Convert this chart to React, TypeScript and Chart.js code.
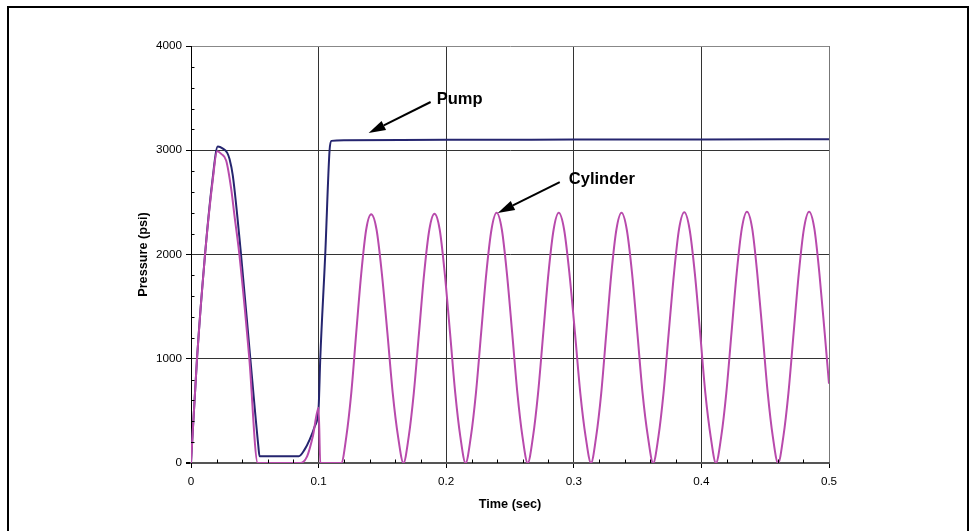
import { useEffect, useRef } from "react";
import { Chart, registerables } from "chart.js";

Chart.register(...registerables);

const FONT = "'Liberation Sans', Arial, Helvetica, sans-serif";

// Pump pressure trace (time in s, pressure in psi)
const pumpTime = [
  0, 0.0047, 0.011, 0.0165, 0.021, 0.025, 0.0284, 0.0302, 0.0328, 0.0392,
  0.0465, 0.0528, 0.0537, 0.0845, 0.089, 0.093, 0.097, 0.1, 0.1013, 0.1052,
  0.1086, 0.11, 0.12, 0.2, 0.3, 0.4, 0.5,
];
const pumpPressure = [
  0, 1000, 2000, 2680, 3035, 3015, 2975, 2915, 2755, 2000,
  1000, 160, 65, 65, 128, 224, 352, 530, 1000, 2000,
  3000, 3090, 3096, 3100, 3102, 3104, 3105,
];

// Cylinder pressure trace
const cylinderTime = [
  0, 0.0047, 0.011, 0.0171, 0.0204, 0.0237, 0.0276, 0.0315, 0.0341, 0.0379,
  0.0457, 0.0523, 0.0855, 0.091, 0.0955, 0.1, 0.1013, 0.1178,
  0.1217, 0.1256, 0.1295, 0.1334, 0.1373, 0.1412,
  0.1454, 0.1496, 0.1539, 0.1581, 0.1623, 0.1665,
  0.1706, 0.1746, 0.1787, 0.1827, 0.1868, 0.1908,
  0.1949, 0.1989, 0.203, 0.2071, 0.2111, 0.2152,
  0.2193, 0.2233, 0.2274, 0.2314, 0.2355, 0.2395,
  0.2436, 0.2476, 0.2517, 0.2558, 0.2598, 0.2639,
  0.268, 0.272, 0.2761, 0.2801, 0.2842, 0.2882,
  0.2924, 0.2966, 0.3009, 0.3051, 0.3093, 0.3135,
  0.3175, 0.3215, 0.3255, 0.3294, 0.3334, 0.3374,
  0.3415, 0.3457, 0.3498, 0.3539, 0.3581, 0.3622,
  0.3663, 0.3703, 0.3744, 0.3785, 0.3825, 0.3866,
  0.3907, 0.3949, 0.399, 0.4031, 0.4073, 0.4114,
  0.4155, 0.4195, 0.4236, 0.4276, 0.4317, 0.4357,
  0.4398, 0.4438, 0.4479, 0.452, 0.456, 0.4601,
  0.4642, 0.4682, 0.4723, 0.4763, 0.4804, 0.4844,
  0.4885, 0.4925, 0.4966, 0.5,
];
const cylinderPressure = [
  0, 1000, 2000, 2720, 2990, 2965, 2900, 2630, 2370, 2000,
  1000, 0, 0, 64, 256, 530, 0, 0,
  250, 670, 1250, 1815, 2240, 2385,
  2240, 1815, 1250, 670, 250, 0,
  250, 670, 1250, 1815, 2240, 2390,
  2240, 1815, 1250, 670, 250, 0,
  250, 670, 1250, 1815, 2240, 2400,
  2240, 1815, 1250, 670, 250, 0,
  250, 670, 1250, 1815, 2240, 2400,
  2240, 1815, 1250, 670, 250, 0,
  250, 670, 1250, 1815, 2240, 2400,
  2240, 1815, 1250, 670, 250, 0,
  250, 670, 1250, 1815, 2245, 2405,
  2245, 1815, 1250, 670, 250, 0,
  250, 670, 1250, 1815, 2250, 2410,
  2250, 1815, 1250, 670, 250, 0,
  250, 670, 1250, 1815, 2250, 2410,
  2250, 1815, 1250, 760,
];

const xMinorTicks = [
  0.02, 0.04, 0.06, 0.08, 0.12, 0.14, 0.16, 0.18, 0.22, 0.24,
  0.26, 0.28, 0.32, 0.34, 0.36, 0.38, 0.42, 0.44, 0.46, 0.48,
];
const yMinorTicks = [
  200, 400, 600, 800, 1200, 1400, 1600, 1800, 2200, 2400, 2600, 2800,
  3200, 3400, 3600, 3800,
];

const seriesNames = ["Pump", "Cylinder"];
const seriesColors = ["#25256F", "#B84AAC"];

// Callout labels with arrows, in data coordinates
const calloutLabels = ["Pump", "Cylinder"];
const calloutTextAt = [
  [0.1925, 3492],
  [0.2961, 2724],
];
const calloutArrowFrom = [
  [0.1878, 3463],
  [0.289, 2695],
];
const calloutArrowTo = [
  [0.1392, 3165],
  [0.2404, 2398],
];

const framePlugin = {
  id: "frame",
  afterDraw(chart: any) {
    const { ctx } = chart;
    ctx.save();
    ctx.strokeStyle = "#000";
    ctx.lineWidth = 2;
    ctx.strokeRect(8, 7, 960, 600);
    ctx.restore();
  },
};

const minorTickPlugin = {
  id: "minorTicks",
  afterDatasetsDraw(chart: any) {
    const { ctx, chartArea, scales } = chart;
    const xs = scales.x;
    const ys = scales.y;
    ctx.save();
    ctx.strokeStyle = "#000";
    ctx.lineWidth = 1;
    ctx.beginPath();
    for (const v of yMinorTicks) {
      const py = Math.round(ys.getPixelForValue(v)) + 0.5;
      ctx.moveTo(chartArea.left, py);
      ctx.lineTo(chartArea.left + 3.5, py);
    }
    for (const v of xMinorTicks) {
      const px = Math.round(xs.getPixelForValue(v)) + 0.5;
      ctx.moveTo(px, chartArea.bottom);
      ctx.lineTo(px, chartArea.bottom - 3.5);
    }
    ctx.stroke();
    ctx.restore();
  },
};

const calloutPlugin = {
  id: "callouts",
  afterDatasetsDraw(chart: any) {
    const { ctx, scales } = chart;
    const xs = scales.x;
    const ys = scales.y;
    ctx.save();
    calloutLabels.forEach((label, i) => {
      const x1 = xs.getPixelForValue(calloutArrowFrom[i][0]);
      const y1 = ys.getPixelForValue(calloutArrowFrom[i][1]);
      const x2 = xs.getPixelForValue(calloutArrowTo[i][0]);
      const y2 = ys.getPixelForValue(calloutArrowTo[i][1]);
      const ang = Math.atan2(y2 - y1, x2 - x1);
      const headLen = 17;
      const headHalf = 5;
      const bx = x2 - headLen * Math.cos(ang);
      const by = y2 - headLen * Math.sin(ang);
      ctx.strokeStyle = "#000";
      ctx.lineWidth = 2;
      ctx.beginPath();
      ctx.moveTo(x1, y1);
      ctx.lineTo(bx, by);
      ctx.stroke();
      ctx.fillStyle = "#000";
      ctx.beginPath();
      ctx.moveTo(x2, y2);
      ctx.lineTo(bx + headHalf * Math.sin(ang), by - headHalf * Math.cos(ang));
      ctx.lineTo(bx - headHalf * Math.sin(ang), by + headHalf * Math.cos(ang));
      ctx.closePath();
      ctx.fill();
      ctx.font = `bold 16.5px ${FONT}`;
      ctx.textBaseline = "middle";
      ctx.textAlign = "left";
      ctx.fillText(
        label,
        xs.getPixelForValue(calloutTextAt[i][0]),
        ys.getPixelForValue(calloutTextAt[i][1])
      );
    });
    ctx.restore();
  },
};

export default function App() {
  const canvasRef = useRef<HTMLCanvasElement | null>(null);

  useEffect(() => {
    if (!canvasRef.current) return;
    Chart.defaults.font.family = FONT;
    const chart = new Chart(canvasRef.current, {
      type: "line",
      data: {
        datasets: [
          {
            label: seriesNames[0],
            data: pumpTime.map((t, i) => ({ x: t, y: pumpPressure[i] })),
            borderColor: seriesColors[0],
            backgroundColor: seriesColors[0],
            borderWidth: 2,
            pointRadius: 0,
            cubicInterpolationMode: "monotone",
            order: 1,
          },
          {
            label: seriesNames[1],
            data: cylinderTime.map((t, i) => ({ x: t, y: cylinderPressure[i] })),
            borderColor: seriesColors[1],
            backgroundColor: seriesColors[1],
            borderWidth: 2,
            pointRadius: 0,
            cubicInterpolationMode: "monotone",
            order: 0,
          },
        ],
      },
      options: {
        responsive: false,
        animation: false,
        events: [],
        layout: { padding: { left: 0, right: 145, top: 46, bottom: 0 } },
        plugins: {
          legend: { display: false },
          tooltip: { enabled: false },
        },
        scales: {
          x: {
            type: "linear",
            min: 0,
            max: 0.5,
            ticks: {
              stepSize: 0.1,
              padding: 7,
              color: "#000",
              maxRotation: 0,
              font: { size: 11.7 },
              callback: (v: any) => String(Math.round(Number(v) * 10) / 10),
            },
            grid: {
              color: (c: any) =>
                c.tick && Math.abs(c.tick.value - 0.5) < 1e-9 ? "#777" : "#333",
              lineWidth: 1,
              tickLength: 5,
              tickColor: "#000",
            },
            border: { display: true, color: "#555", width: 2 },
            title: {
              display: true,
              text: "Time (sec)",
              color: "#000",
              font: { size: 12.7, weight: "bold" },
              padding: { top: 0, bottom: 19 },
            },
            afterFit: (s: any) => {
              s.height = 68;
            },
          },
          y: {
            type: "linear",
            min: 0,
            max: 4000,
            ticks: {
              stepSize: 1000,
              padding: 4,
              color: "#000",
              font: { size: 11.7 },
              callback: (v: any) => String(v),
            },
            grid: {
              color: (c: any) => {
                const v = c.tick ? c.tick.value : -1;
                if (v === 0) return "#555";
                if (v === 4000) return "#888";
                return "#333";
              },
              lineWidth: (c: any) => (c.tick && c.tick.value === 0 ? 2 : 1),
              tickLength: 5,
              tickColor: "#000",
            },
            border: { display: true, color: "#000", width: 1 },
            title: {
              display: true,
              text: "Pressure (psi)",
              color: "#000",
              font: { size: 12.7, weight: "bold" },
              padding: { top: 136, bottom: 0 },
            },
            afterFit: (s: any) => {
              s.width = 191;
            },
          },
        },
      },
      plugins: [minorTickPlugin, calloutPlugin, framePlugin],
    } as any);
    return () => chart.destroy();
  }, []);

  return (
    <div style={{ position: "absolute", left: 0, top: 0, width: 974, height: 531 }}>
      <canvas ref={canvasRef} width={974} height={531} style={{ display: "block" }} />
    </div>
  );
}
